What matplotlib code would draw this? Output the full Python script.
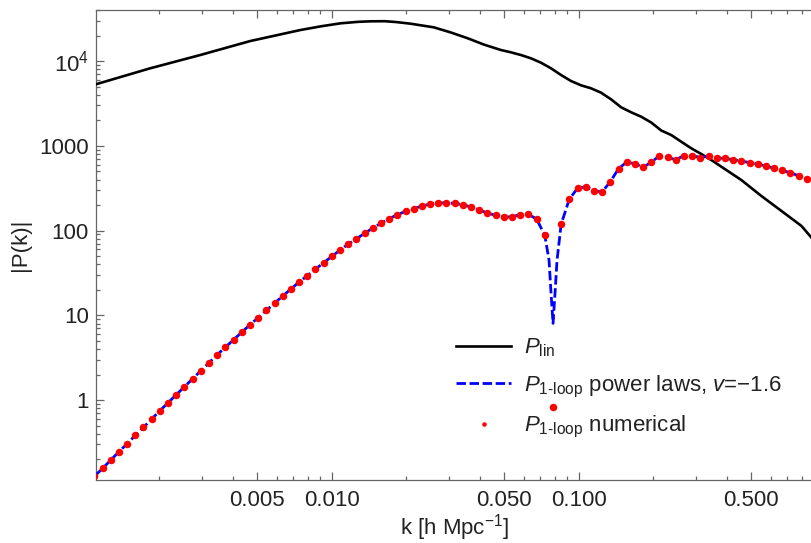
import numpy as np
import matplotlib
matplotlib.use("Agg")
import matplotlib.pyplot as plt

# ---------------- data ----------------
k_lin = [0.00111, 0.001844, 0.002941, 0.004691, 0.007483, 0.009093, 0.010877, 0.01277,
         0.014394, 0.01637, 0.01818, 0.02083, 0.02593, 0.03028, 0.03562, 0.04133,
         0.04848, 0.05323, 0.05843, 0.06418, 0.07046, 0.07735,
         0.08492, 0.09324, 0.10235, 0.11236, 0.1234, 0.1354, 0.1487, 0.1633,
         0.1793, 0.1968, 0.2161, 0.2372, 0.2604, 0.286, 0.314, 0.3447, 0.3785,
         0.4562, 0.55, 0.663, 0.7993, 0.8859]
P_lin = [5309, 8204, 11770, 17220, 23220, 25720, 27850, 28980,
         29410, 29500, 28860, 27600, 24980, 21800, 18530, 15650,
         13490, 12670, 11770, 10760, 9550, 8200,
         6838, 5808, 5168, 4764, 4227, 3532, 2843, 2482,
         2202, 1881, 1514, 1339, 1116, 933, 799, 679, 566,
         394, 255, 170, 113, 79.4]

k_num = [0.001096, 0.001183, 0.001277, 0.001378, 0.001487, 0.001605, 0.001733, 0.00187,
         0.002018, 0.002178, 0.002351, 0.002538, 0.002739, 0.002956, 0.003191, 0.003444,
         0.003717, 0.004012, 0.00433, 0.004673, 0.005044, 0.005447, 0.005879, 0.006345,
         0.006848, 0.007391, 0.007977, 0.00861, 0.009293, 0.01003, 0.01083, 0.01169,
         0.01261, 0.01361, 0.01469, 0.01586, 0.01711, 0.01847, 0.01993, 0.02151,
         0.02322, 0.02506, 0.02705, 0.02919, 0.03151, 0.03401, 0.0367, 0.03961,
         0.04275, 0.04614, 0.0498, 0.05378, 0.05804, 0.06265, 0.06761, 0.07298,
         0.07876, 0.08501, 0.09175, 0.09903, 0.1069, 0.1154, 0.1245, 0.1344,
         0.1451, 0.1566, 0.169, 0.1824, 0.1968, 0.2124, 0.2293, 0.2475,
         0.2671, 0.2883, 0.3112, 0.3359, 0.3625, 0.3913, 0.4223, 0.4558,
         0.4919, 0.531, 0.5731, 0.6186, 0.6676, 0.7206, 0.7777, 0.8394]
P_num = [0.126, 0.156, 0.196, 0.245, 0.305, 0.383, 0.476, 0.597,
         0.748, 0.929, 1.155, 1.435, 1.784, 2.217, 2.755, 3.42,
         4.2, 5.15, 6.31, 7.73, 9.36, 11.4, 13.9, 16.9,
         20.4, 24.7, 29.3, 35.1, 41.7, 49.6, 58.9, 69.3,
         80.0, 92.7, 107, 122, 138, 154, 168, 181,
         195, 205, 211, 213, 209, 202, 189, 175,
         161, 151, 144, 145.5, 154, 155, 137, 87.7,
         0.834, 119, 235, 315, 329, 295, 285, 377,
         536, 643, 614, 558, 638, 761, 733, 684,
         767, 767, 727, 761, 717, 711, 683, 661,
         634, 609, 577, 542, 513, 480, 443, 409]

# power-law curve: same samples plus the finer points around the zero crossing
k_pl = (k_num[:56] + [0.07592, 0.07735, 0.07881, 0.0803, 0.08181] + k_num[57:] + [0.8859])
P_pl = (P_num[:56] + [44.9, 18.3, 8.04, 18.3, 44.9] + P_num[57:] + [394])

xticks_major = [0.005, 0.01, 0.05, 0.1, 0.5]
xtick_labels = ["0.005", "0.010", "0.050", "0.100", "0.500"]
xticks_minor = [0.002, 0.003, 0.004, 0.006, 0.007, 0.008, 0.009,
                0.02, 0.03, 0.04, 0.06, 0.07, 0.08, 0.09,
                0.2, 0.3, 0.4, 0.6, 0.7, 0.8]
yticks_major = [1, 10, 100, 1000, 10000]
ytick_labels = ["1", "10", "100", "1000", r"$10^4$"]
yticks_minor = [0.2, 0.3, 0.4, 0.5, 0.6, 0.7, 0.8, 0.9,
                2, 3, 4, 5, 6, 7, 8, 9,
                20, 30, 40, 50, 60, 70, 80, 90,
                200, 300, 400, 500, 600, 700, 800, 900,
                2000, 3000, 4000, 5000, 6000, 7000, 8000, 9000,
                20000, 30000, 40000]

# ---------------- style ----------------
plt.rcParams['font.family'] = ['Liberation Sans', 'DejaVu Sans']
plt.rcParams['mathtext.fontset'] = 'custom'
plt.rcParams['mathtext.rm'] = 'Liberation Sans'
plt.rcParams['mathtext.it'] = 'Liberation Sans:italic'
plt.rcParams['mathtext.bf'] = 'Liberation Sans:bold'
plt.rcParams['lines.scale_dashes'] = False

FS = 16
TXT = '#222222'
FRAME = '#666666'

fig = plt.figure(figsize=(8.11, 5.43), dpi=100)
ax = fig.add_axes([0.118, 0.116, 0.884, 0.8656])

ax.plot(k_lin, P_lin, color='black', lw=1.9, zorder=3, label=r'$P_{\rm lin}$')
ax.plot(k_pl, P_pl, color='#0000ff', lw=2.0, dashes=(6.8, 2.6), zorder=4,
        label=r'$P_{1\text{-}\mathrm{loop}}$ power laws, $v$=$-$1.6')
ax.plot(k_num, P_num, linestyle='none', marker='o', ms=5.4, color='#ff0000',
        mec='none', zorder=5, label=r'$P_{1\text{-}\mathrm{loop}}$ numerical')

ax.set_xscale('log')
ax.set_yscale('log')
ax.set_xlim(0.00111, 0.8859)
ax.set_ylim(0.114, 40000)

ax.set_xticks(xticks_major)
ax.set_xticklabels(xtick_labels)
ax.set_xticks(xticks_minor, minor=True)
ax.set_xticklabels([], minor=True)
ax.set_yticks(yticks_major)
ax.set_yticklabels(ytick_labels)
ax.set_yticks(yticks_minor, minor=True)
ax.set_yticklabels([], minor=True)

ax.tick_params(which='both', direction='in', top=True, right=False,
               color=FRAME, labelcolor=TXT, labelsize=FS, width=0.9)
ax.tick_params(which='major', length=6)
ax.tick_params(which='minor', length=3.2)
ax.tick_params(axis='x', which='major', pad=7)
ax.tick_params(axis='y', which='major', pad=5)

for side in ['left', 'bottom', 'top']:
    ax.spines[side].set_color(FRAME)
    ax.spines[side].set_linewidth(0.9)
ax.spines['right'].set_visible(False)

ax.set_xlabel(r'k [h Mpc$^{-1}$]', fontsize=FS, color=TXT, labelpad=1)
ax.set_ylabel('|P(k)|', fontsize=FS, color=TXT, labelpad=6)

leg = ax.legend(loc='upper left', bbox_to_anchor=(0.503, 0.305), frameon=False,
                fontsize=FS, handlelength=2.45, handletextpad=0.6,
                labelspacing=0.64, borderpad=0, borderaxespad=0,
                markerscale=0.6)
for t in leg.get_texts():
    t.set_color(TXT)

fig.savefig('out.png', dpi=100)
